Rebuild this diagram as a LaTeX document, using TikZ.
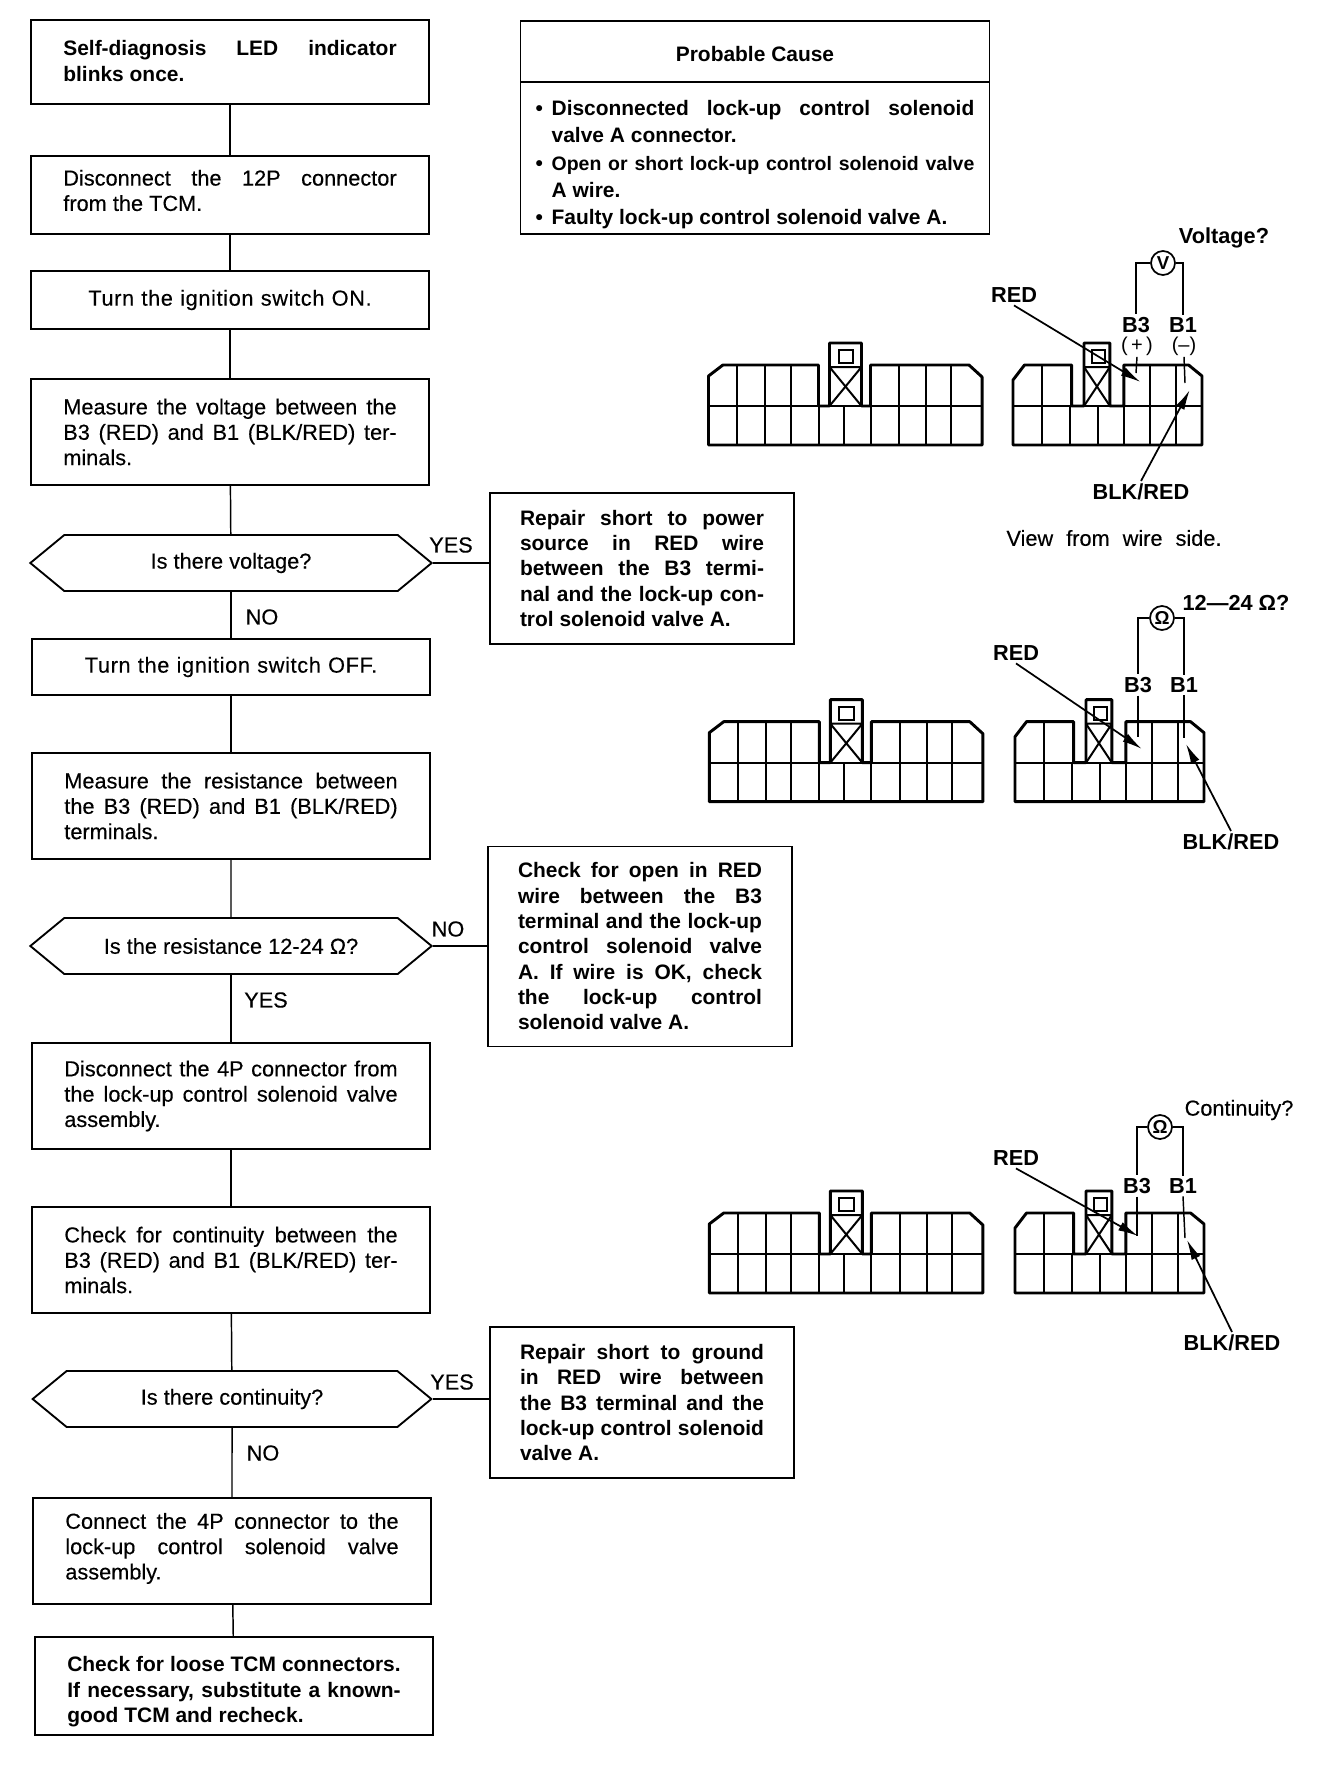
\documentclass[tikz,border=0pt]{standalone}
\usepackage{fontspec}
\setmainfont{Liberation Sans}
\newfontfamily\scanfont[FakeBold=0.3]{Liberation Sans}
\newfontfamily\stepfont[FakeBold=0.3,LetterSpace=3]{Liberation Sans}
\usetikzlibrary{arrows.meta,shapes.symbols}

\newcommand{\looseset}{\spaceskip=.28em plus .8em minus .13em\tolerance=9999\relax}
\newcommand{\plainset}{\fontsize{16.3}{19}\scanfont\looseset}
\newcommand{\stepset}{\fontsize{16.3}{19}\stepfont}
\newcommand{\noteset}{\fontsize{16.3}{19}\scanfont\spaceskip=.6em\relax}
\newcommand{\heavyset}{\fontsize{15.7}{19}\selectfont\bfseries\looseset}
\newcommand{\causeset}{\fontsize{15.7}{20.5}\selectfont\bfseries\looseset}
\newcommand{\causeitem}{\par\hangindent=12pt\hangafter=1\noindent\hbox to 12pt{\textbullet\hfil}}
\newcommand{\nudge}[1]{\par\vspace*{#1}\noindent}

\tikzset{
  boxtext/.style={font=\plainset, align=justify, inner sep=0pt, outer sep=0pt},
  flowbox/.style={boxtext, draw, line width=1.4pt, text width=250pt, minimum width=299pt},
  stepbox/.style={flowbox, align=center, font=\stepset},
  alertbox/.style={flowbox, font=\heavyset},
  fixbox/.style={boxtext, draw, line width=1.2pt, font=\heavyset, text width=183pt, minimum width=228pt},
  askbox/.style={draw, line width=1.4pt, signal, signal to=west and east, signal pointer angle=79,
    font=\plainset, inner sep=0pt, minimum width=301pt, minimum height=42pt},
  answer/.style={font=\plainset, inner sep=1pt},
  wiretag/.style={font=\fontsize{16.3}{19}\selectfont\bfseries, inner sep=2pt},
  signtag/.style={font=\fontsize{15}{15}\selectfont, inner sep=1pt},
  meter/.style={draw, circle, line width=1.3pt, inner sep=0pt, minimum size=18pt, font=\fontsize{14}{14}\selectfont\bfseries},
  flowline/.style={line width=1.1pt},
  probe/.style={line width=1.1pt},
  pointer/.style={line width=1.3pt, -{Latex[length=15pt,width=7pt]}},
  conedge/.style={line width=2.2pt, line join=round},
  conrib/.style={line width=1.5pt},
  conleft/.pic={
    \draw[conedge] (0,0) -- (0,-69) -- (14.4,-80) -- (110,-80) -- (110,-39) -- (121,-39) -- (121,-102)
      -- (153,-102) -- (153,-39) -- (162,-39) -- (162,-80) -- (260.5,-80) -- (273.6,-68) -- (273.6,0) -- cycle;
    \draw[conrib] (0,-39) -- (273.6,-39);
    \foreach \c in {28.7,56.2,82,190.8,217.4,242.9} \draw[conrib] (\c,0) -- (\c,-80);
    \foreach \c in {110,135,162} \draw[conrib] (\c,0) -- (\c,-39);
    \draw[conrib] (121,-78) -- (153,-78) (121,-78) -- (153,-39) (153,-78) -- (121,-39);
    \draw[conrib] (130,-82) rectangle (144.8,-95);
  },
  conright/.pic={
    \draw[conedge] (0,0) -- (0,-65) -- (11.5,-80) -- (58.7,-80) -- (58.7,-39) -- (71,-39) -- (71,-102)
      -- (96.9,-102) -- (96.9,-39) -- (110.8,-39) -- (110.8,-80) -- (175.6,-80) -- (189,-69) -- (189,0) -- cycle;
    \draw[conrib] (0,-39) -- (189,-39);
    \foreach \c in {28.7,136.6,163.3} \draw[conrib] (\c,0) -- (\c,-80);
    \foreach \c in {56.6,84.5,110.8} \draw[conrib] (\c,0) -- (\c,-39);
    \draw[conrib] (71,-78) -- (96.9,-78) (71,-78) -- (96.9,-39) (96.9,-78) -- (71,-39);
    \draw[conrib] (79.2,-82) rectangle (91.5,-95);
  }
}

\begin{document}
\begin{tikzpicture}[x=0.75pt, y=-0.75pt]
    \useasboundingbox (0,0) rectangle (1344,1770);

    % flow column
    \node[alertbox, minimum height=63pt] (selfdiag) at (230,62) {\nudge{-9pt}Self-diagnosis LED indicator\break blinks once.};
    \node[flowbox, minimum height=59pt] (unplugtcm) at (230,195) {\nudge{-14pt}Disconnect the 12P connector\break from the TCM.};
    \node[stepbox, minimum height=43pt] (ignon) at (230,300) {Turn the ignition switch ON.};
    \node[flowbox, minimum height=79pt] (measvolt) at (230,432) {Measure the voltage between the\break B3 (RED) and B1 (BLK/RED) ter-\break minals.};
    \node[askbox] (askvolt) at (231,563) {Is there voltage?};
    \node[stepbox, minimum height=42pt] (ignoff) at (231,667) {Turn the ignition switch OFF.};
    \node[flowbox, minimum height=79.5pt] (measohm) at (231,806) {Measure the resistance between\break the B3 (RED) and B1 (BLK/RED)\break terminals.};
    \node[askbox] (askohm) at (231,946) {Is the resistance 12-24 Ω?};
    \node[flowbox, minimum height=79pt] (unplugvalve) at (231,1096) {Disconnect the 4P connector from\break the lock-up control solenoid valve\break assembly.};
    \node[flowbox, minimum height=79pt] (checkcont) at (231,1260) {Check for continuity between the\break B3 (RED) and B1 (BLK/RED) ter-\break minals.};
    \node[askbox, minimum width=299pt] (askcont) at (232,1399) {Is there continuity?};
    \node[flowbox, minimum height=79pt] (plugvalve) at (232,1551) {\nudge{-11pt}Connect the 4P connector to the\break lock-up control solenoid valve\break assembly.};
    \node[alertbox, line width=1.6pt, minimum height=73pt] (looktcm) at (234,1686) {\nudge{1pt}Check for loose TCM connectors.\break If necessary, substitute a known-\break good TCM and recheck.};

    % side boxes
    \node[boxtext, draw, line width=1.2pt, font=\heavyset, align=none, text height=18pt, text depth=3pt, minimum width=352pt, minimum height=46pt] (causehead) at (755,51.5) {Probable Cause};
    \node[boxtext, draw, line width=1.2pt, font=\causeset, text width=329pt, minimum width=352pt, minimum height=114pt, below=0pt] (causelist) at (causehead.south) {%
      \vspace*{1pt}%
      \causeitem Disconnected lock-up control solenoid\break valve A connector.
      \causeitem \hbox to 317pt{\fontsize{14.6}{20.5}\selectfont\spaceskip=.2em plus 1fil\relax Open or short lock-up control solenoid valve}\break A wire.
      \causeitem Faulty lock-up control solenoid valve A.};
    \node[fixbox, minimum height=113pt] (fixpower) at (642,568.5) {Repair short to power\break source in RED wire\break between the B3 termi-\break nal and the lock-up con-\break trol solenoid valve A.};
    \node[fixbox, minimum height=150pt] (fixopen) at (640,946.5) {Check for open in RED\break wire between the B3\break terminal and the lock-up\break control solenoid valve\break A. If wire is OK, check\break the lock-up control\break solenoid valve A.};
    \node[fixbox, minimum height=113pt] (fixground) at (642,1402.5) {Repair short to ground\break in RED wire between\break the B3 terminal and the\break lock-up control solenoid\break valve A.};

    \draw[flowline] (selfdiag) -- (unplugtcm);
    \draw[flowline] (unplugtcm) -- (ignon);
    \draw[flowline] (ignon) -- (measvolt);
    \draw[flowline] (measvolt) -- (askvolt);
    \draw[flowline] (askvolt) -- (ignoff);
    \draw[flowline] (ignoff) -- (measohm);
    \draw[flowline] (measohm) -- (askohm);
    \draw[flowline] (askohm) -- (unplugvalve);
    \draw[flowline] (unplugvalve) -- (checkcont);
    \draw[flowline] (checkcont) -- (askcont);
    \draw[flowline] (askcont) -- (plugvalve);
    \draw[flowline] (plugvalve) -- (looktcm);
    \draw[flowline] (askvolt.east) -- (askvolt.east -| fixpower.west);
    \draw[flowline] (askohm.east) -- (askohm.east -| fixopen.west);
    \draw[flowline] (askcont.east) -- (askcont.east -| fixground.west);

    \node[answer] (yesvolt) at (451,545) {YES};
    \node[answer] (novolt) at (262,617) {NO};
    \node[answer] (noohm) at (448,929) {NO};
    \node[answer] (yesohm) at (266,1000) {YES};
    \node[answer] (yescont) at (452,1382) {YES};
    \node[answer] (nocont) at (263,1453) {NO};

    % voltage check
    \pic at (708.5,445) {conleft};
    \pic at (1013,445) {conright};
    \node[meter] (voltmeter) at (1163,263) {V};
    \node[wiretag] (voltlabel) at (1224,238) {Voltage?};
    \node[wiretag] (bthreev) at (1136,325) {B3};
    \node[wiretag] (bonev) at (1183,325) {B1};
    \node[signtag] (plusv) at (1137,346) {(\,+\,)};
    \node[signtag] (minusv) at (1184,346) {(--)};
    \node[wiretag] (redv) at (1014,295) {RED};
    \node[wiretag] (blkv) at (1141,492) {BLK/RED};
    \node[answer, font=\noteset] (viewnote) at (1114,538) {View from wire side.};
    \coordinate (probebv) at (1136,373);
    \coordinate (probeav) at (1185,383);
    \coordinate (tipredv) at (1140.5,382);
    \coordinate (tipblkv) at (1189.7,390);
    \draw[probe] (voltmeter.west) -| (bthreev.north);
    \draw[probe] (voltmeter.east) -| (bonev.north);
    \draw[probe] (plusv.south) -- (probebv);
    \draw[probe] (minusv.south) -- (probeav);
    \draw[pointer] (redv.south) -- (tipredv);
    \draw[pointer] (blkv.north) -- (tipblkv);

    % resistance check
    \pic at (709.3,801.7) {conleft};
    \pic at (1015,801.7) {conright};
    \node[meter] (ohmmeter) at (1162,618) {Ω};
    \node[wiretag] (ohmlabel) at (1236,603) {12---24 Ω?};
    \node[wiretag] (bthreer) at (1138,685) {B3};
    \node[wiretag] (boner) at (1184,685) {B1};
    \node[wiretag] (redr) at (1016,653) {RED};
    \node[wiretag] (blkr) at (1231,842) {BLK/RED};
    \coordinate (probebr) at (1138,737);
    \coordinate (probear) at (1184,738);
    \coordinate (tipredr) at (1142,749);
    \coordinate (tipblkr) at (1186,744);
    \draw[probe] (ohmmeter.west) -| (bthreer.north);
    \draw[probe] (ohmmeter.east) -| (boner.north);
    \draw[probe] (bthreer.south) -- (probebr);
    \draw[probe] (boner.south) -- (probear);
    \draw[pointer] (redr.south) -- (tipredr);
    \draw[pointer] (blkr.north) -- (tipblkr);

    % continuity check
    \pic at (709.3,1293) {conleft};
    \pic at (1015,1293) {conright};
    \node[meter] (contmeter) at (1160,1127) {Ω};
    \node[answer] (contlabel) at (1239,1110) {Continuity?};
    \node[wiretag] (bthreec) at (1137,1186) {B3};
    \node[wiretag] (bonec) at (1183,1186) {B1};
    \node[wiretag] (redc) at (1016,1158) {RED};
    \node[wiretag] (blkc) at (1232,1343) {BLK/RED};
    \coordinate (probebc) at (1137,1236);
    \coordinate (probeac) at (1185,1238);
    \coordinate (tipredc) at (1138,1236);
    \coordinate (tipblkc) at (1187,1240);
    \draw[probe] (contmeter.west) -| (bthreec.north);
    \draw[probe] (contmeter.east) -| (bonec.north);
    \draw[probe] (bthreec.south) -- (probebc);
    \draw[probe] (bonec.south) -- (probeac);
    \draw[pointer] (redc.south) -- (tipredc);
    \draw[pointer] (blkc.north) -- (tipblkc);
\end{tikzpicture}
\end{document}
